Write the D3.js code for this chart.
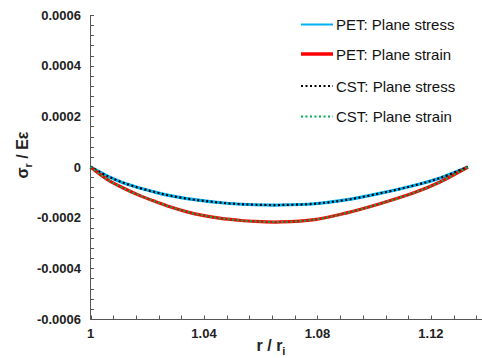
<!DOCTYPE html>
<html><head><meta charset="utf-8">
<script src="https://cdn.jsdelivr.net/npm/d3@7"></script>
<style>body{margin:0;background:#fff}svg{display:block}</style>
</head><body>
<svg id="c" width="482" height="358"></svg>
<script>
const rValues = [1, 1.006, 1.011, 1.017, 1.023, 1.028, 1.034, 1.040, 1.046, 1.052, 1.058, 1.067, 1.079, 1.090, 1.102, 1.114, 1.123, 1.133];
const planeStress = [0, -0.000036, -0.000060, -0.000082, -0.000100, -0.000113, -0.000125, -0.000134, -0.000141, -0.000146, -0.000149, -0.000150, -0.000145, -0.000130, -0.000104, -0.000073, -0.000044, 0];
const planeStrain = [0, -0.000050, -0.000080, -0.000111, -0.000137, -0.000157, -0.000177, -0.000192, -0.000203, -0.000210, -0.000215, -0.000217, -0.000208, -0.000182, -0.000145, -0.000102, -0.000060, 0];
const xTicks = [1, 1.04, 1.08, 1.12];
const yTicks = [0.0006, 0.0004, 0.0002, 0, -0.0002, -0.0004, -0.0006];
const yTickLabels = ["0.0006", "0.0004", "0.0002", "0", "-0.0002", "-0.0004", "-0.0006"];
const seriesNames = ["PET: Plane stress", "PET: Plane strain", "CST: Plane stress", "CST: Plane strain"];

const svg = d3.select("#c");
const x = d3.scaleLinear().domain([1, 1.14]).range([90.5, 487.7]);
const y = d3.scaleLinear().domain([-0.0006, 0.0006]).range([319, 15]);
const axisColor = "#555";

// minor ticks
const yMinor = d3.range(-0.0006, 0.00060001, 0.00004);
svg.append("g").selectAll("line").data(yMinor).join("line")
  .attr("x1", 90.5).attr("x2", 94).attr("y1", d => Math.round(y(d)) + 0.5).attr("y2", d => Math.round(y(d)) + 0.5)
  .attr("stroke", axisColor).attr("stroke-width", 1);
const xMinor = d3.range(1, 1.1401, 0.008);
svg.append("g").selectAll("line").data(xMinor).join("line")
  .attr("x1", d => Math.round(x(d)) + 0.5).attr("x2", d => Math.round(x(d)) + 0.5).attr("y1", 319).attr("y2", 315.5)
  .attr("stroke", axisColor).attr("stroke-width", 1);

// axis lines
svg.append("line").attr("x1", 90.5).attr("x2", 90.5).attr("y1", 15).attr("y2", 319.5).attr("stroke", axisColor);
svg.append("line").attr("x1", 90.5).attr("x2", 482).attr("y1", 319.5).attr("y2", 319.5).attr("stroke", axisColor);

// tick labels
svg.append("g").selectAll("text").data(yTicks).join("text")
  .attr("x", 81).attr("y", d => y(d) + 4.5).attr("text-anchor", "end")
  .attr("font-family", "Liberation Sans, Arial, sans-serif").attr("font-weight", "bold").attr("font-size", 13)
  .attr("fill", "#222").text((d, i) => yTickLabels[i]);
svg.append("g").selectAll("text").data(xTicks).join("text")
  .attr("x", d => x(d)).attr("y", 338).attr("text-anchor", "middle")
  .attr("font-family", "Liberation Sans, Arial, sans-serif").attr("font-weight", "bold").attr("font-size", 13)
  .attr("fill", "#222").text(d => d === 1 ? "1" : d.toFixed(2));

// axis titles
const xt = svg.append("text").attr("x", 271).attr("y", 351).attr("text-anchor", "middle")
  .attr("font-family", "Liberation Sans, Arial, sans-serif").attr("font-weight", "bold").attr("font-size", 16).attr("fill", "#222");
xt.append("tspan").text("r / r");
xt.append("tspan").attr("font-size", 11).attr("dy", 4).text("i");

const yt = svg.append("text").attr("transform", "translate(28,155) rotate(-90)").attr("text-anchor", "middle")
  .attr("font-family", "Liberation Sans, Arial, sans-serif").attr("font-weight", "bold").attr("font-size", 16).attr("fill", "#222");
yt.append("tspan").text("σ");
yt.append("tspan").attr("font-size", 11).attr("dy", 4).text("r");
yt.append("tspan").attr("dy", -4).text(" / Eε");

// curves
const ptsStress = rValues.map((r, i) => [r, planeStress[i]]);
const ptsStrain = rValues.map((r, i) => [r, planeStrain[i]]);
const line = d3.line().x(d => x(d[0])).y(d => y(d[1])).curve(d3.curveCatmullRom.alpha(0.5));

const styles = [
  {color: "#00b0f0", w: 3.2, dash: null, data: ptsStress},
  {color: "#ff0000", w: 3.2, dash: null, data: ptsStrain},
  {color: "#000000", w: 2.2, dash: "2,2.5", data: ptsStress},
  {color: "#00b050", w: 2.2, dash: "2,2.5", data: ptsStrain}
];
styles.forEach(s => {
  svg.append("path").datum(s.data).attr("d", line).attr("fill", "none")
    .attr("stroke", s.color).attr("stroke-width", s.w).attr("stroke-dasharray", s.dash);
});

// legend
const legY = [24.5, 54, 86, 116.5];
seriesNames.forEach((n, i) => {
  const s = styles[i];
  svg.append("line").attr("x1", 301).attr("x2", 333).attr("y1", legY[i]).attr("y2", legY[i])
    .attr("stroke", s.color).attr("stroke-width", s.dash ? 2.2 : (i === 1 ? 3.5 : 2))
    .attr("stroke-dasharray", s.dash);
  svg.append("text").attr("x", 336).attr("y", legY[i] + 5.5).text(n)
    .attr("font-family", "Liberation Sans, Arial, sans-serif").attr("font-size", 15).attr("fill", "#111");
});
</script>
</body></html>
